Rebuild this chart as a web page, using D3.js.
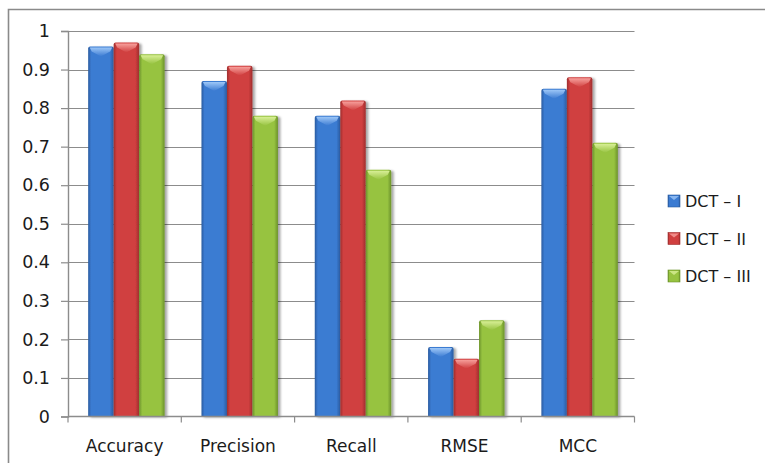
<!DOCTYPE html>
<html>
<head>
<meta charset="utf-8">
<script src="https://cdn.jsdelivr.net/npm/d3@7"></script>
<style>
  html, body { margin: 0; padding: 0; background: #fff; }
  svg { display: block; }
  text { font-family: "DejaVu Sans", sans-serif; fill: #1b1b1b; }
</style>
</head>
<body>
<svg id="chart" width="765" height="463"></svg>
<script>
// Metric groups along the x axis
const categories = ["Accuracy", "Precision", "Recall", "RMSE", "MCC"];
// One series per transform variant
const seriesNames = ["DCT – I", "DCT – II", "DCT – III"];
const dct1 = [0.96, 0.87, 0.78, 0.18, 0.85];
const dct2 = [0.97, 0.91, 0.82, 0.15, 0.88];
const dct3 = [0.94, 0.78, 0.64, 0.25, 0.71];
const yTicks = [0, 0.1, 0.2, 0.3, 0.4, 0.5, 0.6, 0.7, 0.8, 0.9, 1];

const seriesValues = [dct1, dct2, dct3];
const palette = [
  { main: "#3b7bd2", dark: "#2a5b9f", light: "#9cc6f7" },
  { main: "#d03f3f", dark: "#9e2e2e", light: "#f7a09c" },
  { main: "#97c341", dark: "#6b922a", light: "#d8ef96" }
];

const svg = d3.select("#chart");
const plot = { left: 68, right: 634.5, top: 31, bottom: 416.5 };

// outer frame (only top and left edges fall inside the view)
svg.append("path")
  .attr("d", "M8.5,463 L8.5,9.5 L765,9.5")
  .attr("fill", "none").attr("stroke", "#8a8a8a").attr("stroke-width", 1.6);

const x0 = d3.scaleBand().domain(categories).range([plot.left, plot.right]);
const groupW = x0.bandwidth() * 0.675;
const groupOff = x0.bandwidth() * 0.178;
const x1 = d3.scaleBand().domain(seriesNames).range([0, groupW]);
const y = d3.scaleLinear().domain([0, 1]).range([plot.bottom, plot.top]);

const defs = svg.append("defs");
palette.forEach((c, i) => {
  const g = defs.append("linearGradient").attr("id", "grad" + i)
    .attr("x1", "0%").attr("x2", "100%").attr("y1", "0%").attr("y2", "0%");
  g.append("stop").attr("offset", "0%").attr("stop-color", c.dark);
  g.append("stop").attr("offset", "12%").attr("stop-color", c.main);
  g.append("stop").attr("offset", "85%").attr("stop-color", c.main);
  g.append("stop").attr("offset", "100%").attr("stop-color", c.dark);
  const b = defs.append("linearGradient").attr("id", "bevel" + i)
    .attr("x1", "0%").attr("x2", "0%").attr("y1", "0%").attr("y2", "100%");
  b.append("stop").attr("offset", "0%").attr("stop-color", c.light);
  b.append("stop").attr("offset", "100%").attr("stop-color", c.main);
});
const shadow = defs.append("filter").attr("id", "shadow")
  .attr("x", "-20%").attr("y", "-10%").attr("width", "150%").attr("height", "130%");
shadow.append("feDropShadow").attr("dx", 2.5).attr("dy", 1)
  .attr("stdDeviation", 1.3).attr("flood-color", "#000").attr("flood-opacity", 0.35);

// horizontal gridlines
svg.append("g").selectAll("line").data(yTicks.filter(t => t > 0)).join("line")
  .attr("x1", plot.left).attr("x2", plot.right)
  .attr("y1", d => Math.round(y(d)) + 0.5).attr("y2", d => Math.round(y(d)) + 0.5)
  .attr("stroke", "#8c8c8c").attr("stroke-width", 1.2);

// y axis
const yAxis = svg.append("g").attr("transform", `translate(${plot.left},0)`)
  .call(d3.axisLeft(y).tickValues(yTicks).tickSize(7).tickPadding(11)
    .tickFormat(d => d3.format("")(+d.toFixed(1))));
yAxis.select(".domain").attr("stroke", "#8c8c8c").attr("stroke-width", 1.4);
yAxis.selectAll(".tick line").attr("stroke", "#8c8c8c").attr("stroke-width", 1.2);
yAxis.selectAll(".tick text").attr("font-size", 17.5).attr("font-family", "DejaVu Sans")
  .attr("fill", "#1b1b1b");

// bars
const groups = svg.append("g").selectAll("g").data(categories).join("g")
  .attr("transform", d => `translate(${x0(d) + groupOff},0)`);

groups.each(function (cat, ci) {
  const g = d3.select(this);
  seriesNames.forEach((s, si) => {
    const v = seriesValues[si][ci];
    const bx = x1(s), bw = x1.bandwidth();
    const top = y(v), h = y(0) - y(v);
    const bar = g.append("g").attr("filter", "url(#shadow)");
    bar.append("path")
      .attr("d", `M${bx},${top + h} L${bx},${top + 2} Q${bx},${top} ${bx + 2},${top} ` +
        `L${bx + bw - 2},${top} Q${bx + bw},${top} ${bx + bw},${top + 2} L${bx + bw},${top + h} Z`)
      .attr("fill", `url(#grad${si})`);
    // bevelled cap
    const cap = Math.min(10, h / 2);
    bar.append("path")
      .attr("d", `M${bx + 1.5},${top + 1} L${bx + bw - 1.5},${top + 1} ` +
        `L${bx + bw - 3.5},${top + cap * 0.5} L${bx + bw / 2},${top + cap} ` +
        `L${bx + 3.5},${top + cap * 0.5} Z`)
      .attr("fill", `url(#bevel${si})`);
  });
});

// x axis
const xAxis = svg.append("g").attr("transform", `translate(0,${plot.bottom})`);
xAxis.append("line").attr("x1", plot.left).attr("x2", plot.right)
  .attr("stroke", "#8c8c8c").attr("stroke-width", 1.4);
const bounds = categories.map(c => x0(c)).concat([plot.right]);
xAxis.selectAll(".tk").data(bounds).join("line").attr("class", "tk")
  .attr("x1", d => d).attr("x2", d => d).attr("y1", 0).attr("y2", 6)
  .attr("stroke", "#8c8c8c").attr("stroke-width", 1.2);
xAxis.selectAll("text").data(categories).join("text")
  .attr("x", d => x0(d) + x0.bandwidth() / 2).attr("y", 35)
  .attr("text-anchor", "middle").attr("font-size", 17).text(d => d);

// legend
const legend = svg.append("g").selectAll("g").data(seriesNames).join("g")
  .attr("transform", (d, i) => `translate(668,${195 + i * 37.5})`);
legend.append("rect").attr("width", 12).attr("height", 12)
  .attr("fill", (d, i) => `url(#grad${i})`).attr("stroke", (d, i) => palette[i].dark)
  .attr("stroke-width", 0.6);
legend.append("path").attr("d", "M1,1 L11,1 L6,5 Z")
  .attr("fill", (d, i) => palette[i].light).attr("opacity", 0.8);
legend.append("text").attr("x", 17).attr("y", 12).attr("font-size", 16).text(d => d);
</script>
</body>
</html>
